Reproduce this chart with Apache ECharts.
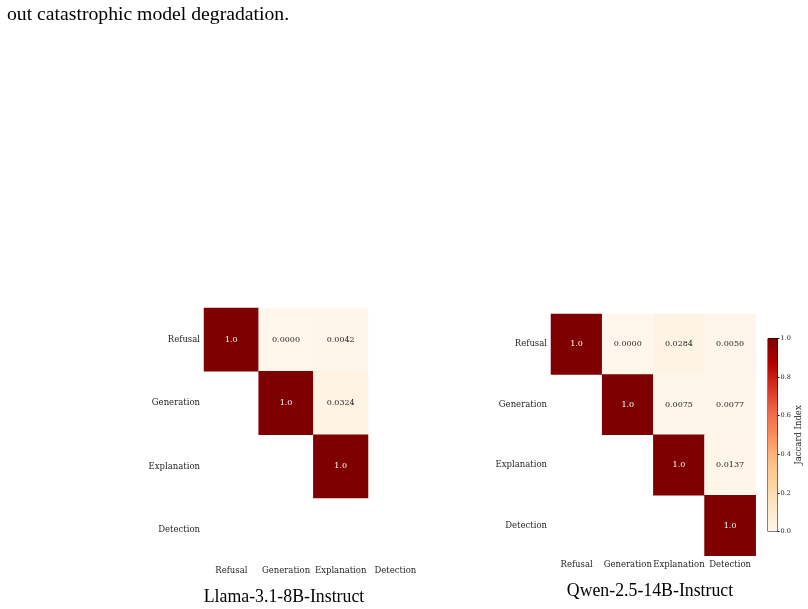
<!DOCTYPE html>
<html>
<head>
<meta charset="utf-8">
<script src="https://cdn.jsdelivr.net/npm/echarts@6/dist/echarts.min.js"></script>
<style>
  html, body { margin: 0; padding: 0; background: #fff; }
  #chart { width: 808px; height: 609px; }
</style>
</head>
<body>
<div id="chart"></div>
<script>
// task names shared by both matrices
var tasks = ['Refusal', 'Generation', 'Explanation', 'Detection'];

// Jaccard index, upper triangle only (null = not drawn)
var llamaMatrix = [
    [1.0, 0.0000, 0.0042, null],
    [null, 1.0, 0.0324, null],
    [null, null, 1.0, null],
    [null, null, null, null]
];
var qwenMatrix = [
    [1.0, 0.0000, 0.0284, 0.0050],
    [null, 1.0, 0.0075, 0.0077],
    [null, null, 1.0, 0.0137],
    [null, null, null, 1.0]
];

var modelNames = ['Llama-3.1-8B-Instruct', 'Qwen-2.5-14B-Instruct'];
var colorbarRange = [0, 1];

// OrRd colormap
var orRd = ['#fff7ec', '#fee8c8', '#fdd49e', '#fdbb84', '#fc8d59', '#ef6548', '#d7301f', '#b30000', '#7f0000'];

function toCells(m) {
    var out = [];
    for (var r = 0; r < m.length; r++) {
        for (var c = 0; c < m[r].length; c++) {
            if (m[r][c] === null) continue;
            out.push({
                value: [c, r, m[r][c]],
                label: { color: m[r][c] > 0.5 ? '#ffffff' : '#262626' }
            });
        }
    }
    return out;
}

function cellText(p) {
    var v = p.value[2];
    return v === 1 ? '1.0' : v.toFixed(4);
}

var tickFont = { fontFamily: 'DejaVu Serif', fontSize: 8.5, color: '#262626' };

function catX(idx) {
    return {
        type: 'category', gridIndex: idx, data: tasks,
        axisLine: { show: false }, axisTick: { show: false },
        splitLine: { show: false },
        axisLabel: Object.assign({ interval: 0, margin: 5 }, tickFont)
    };
}
function catY(idx) {
    return {
        type: 'category', gridIndex: idx, data: tasks, inverse: true,
        axisLine: { show: false }, axisTick: { show: false },
        splitLine: { show: false },
        axisLabel: Object.assign({ interval: 0, margin: 4 }, tickFont)
    };
}

function heat(idx, m) {
    return {
        type: 'heatmap', xAxisIndex: idx, yAxisIndex: idx,
        data: toCells(m),
        label: { show: true, formatter: cellText, fontFamily: 'DejaVu Serif', fontSize: 8 },
        emphasis: { disabled: true },
        itemStyle: { borderWidth: 0 }
    };
}

var chart = echarts.init(document.getElementById('chart'));

var gradStops = orRd.map(function (c, i) {
    return { offset: 1 - i / (orRd.length - 1), color: c };
});

var titleFont = { fontFamily: 'Liberation Serif', fontSize: 17.8, fontWeight: 'normal', color: '#000' };

var option = {
    backgroundColor: '#fff',
    animation: false,
    title: [
        { text: modelNames[0], left: 279, top: 583, textAlign: 'center', textStyle: titleFont },
        { text: modelNames[1], left: 645, top: 577, textAlign: 'center', textStyle: titleFont }
    ],
    graphic: [{
        type: 'text', left: 7, top: 5,
        style: { text: 'out catastrophic model degradation.', font: '19.7px "Liberation Serif"', fill: '#000' }
    }],
    grid: [
        { left: 204, top: 308, width: 218.7, height: 253.3 },
        { left: 551, top: 314, width: 204.7, height: 241.7 },
        { left: 768, top: 338.5, width: 9.5, height: 193, show: true, borderColor: '#000', borderWidth: 1 }
    ],
    xAxis: [
        catX(0), catX(1),
        {
            type: 'category', gridIndex: 2, data: [''],
            axisLine: { show: false }, axisTick: { show: false }, axisLabel: { show: false }
        }
    ],
    yAxis: [
        catY(0), catY(1),
        {
            type: 'value', gridIndex: 2, position: 'right',
            min: colorbarRange[0], max: colorbarRange[1], interval: 0.2,
            axisLine: { show: false },
            axisTick: { show: true, length: 2, lineStyle: { color: '#000' } },
            splitLine: { show: false },
            axisLabel: {
                fontFamily: 'DejaVu Serif', fontSize: 6.5, color: '#262626', margin: 3,
                formatter: function (v) { return v.toFixed(1); }
            },
            name: 'Jaccard Index', nameLocation: 'middle', nameRotate: 90, nameGap: 17,
            nameTextStyle: { fontFamily: 'DejaVu Serif', fontSize: 8.5, color: '#262626' }
        }
    ],
    visualMap: {
        type: 'continuous', show: false, min: 0, max: 1,
        seriesIndex: [0, 1],
        inRange: { color: orRd }
    },
    series: [
        heat(0, llamaMatrix),
        heat(1, qwenMatrix),
        {
            type: 'bar', xAxisIndex: 2, yAxisIndex: 2,
            data: [colorbarRange[1]], barWidth: '100%', silent: true,
            itemStyle: { color: new echarts.graphic.LinearGradient(0, 0, 0, 1, gradStops) }
        }
    ]
};

chart.setOption(option);
</script>
</body>
</html>
